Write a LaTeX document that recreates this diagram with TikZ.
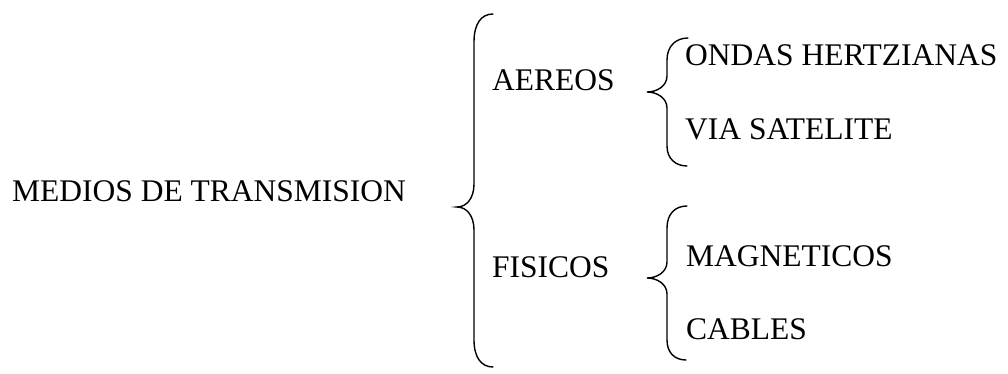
\documentclass[tikz,border=0pt]{standalone}
\usepackage{fontspec}
\setmainfont{Liberation Serif}
\begin{document}
\begin{tikzpicture}[x=1pt,y=-1pt,
  lbl/.style={anchor=base west,inner sep=0pt,font=\fontsize{31.5}{36}\selectfont},
  brace/.style={draw=black,line width=1.4pt,line cap=round}]
\useasboundingbox (0,0) rectangle (1008,374);
\node[lbl] (medios) at (12,201) {MEDIOS DE TRANSMISION};
\node[lbl] (aereos) at (492,91) {AEREOS};
\node[lbl] (fisicos) at (492,277) {FISICOS};
\node[lbl] (ondas) at (685,66) {ONDAS HERTZIANAS};
\node[lbl] (via) at (685,140) {VIA SATELITE};
\node[lbl] (magn) at (686,266) {MAGNETICOS};
\node[lbl] (cables) at (686,339) {CABLES};
% big brace
\path[brace] (493,14) .. controls (481,14) and (474,24) .. (474,42) -- (474,184)
  .. controls (474,199) and (466,207) .. (457,207)
  .. controls (466,207) and (474,215) .. (474,230) -- (474,340)
  .. controls (474,357) and (481,367) .. (493,367);
% small brace 1
\path[brace] (688,38) .. controls (676,38) and (667,46) .. (667,60) -- (667,76)
  .. controls (667,86) and (657,92) .. (647,92)
  .. controls (657,92) and (667,98) .. (667,108) -- (667,146)
  .. controls (667,159) and (676,166) .. (687,166);
% small brace 2
\path[brace] (687,206) .. controls (675,206) and (667,214) .. (667,228) -- (667,262)
  .. controls (667,272) and (657,278) .. (647,278)
  .. controls (657,278) and (667,284) .. (667,294) -- (667,340)
  .. controls (667,353) and (675,360) .. (686,360);
\end{tikzpicture}
\end{document}
